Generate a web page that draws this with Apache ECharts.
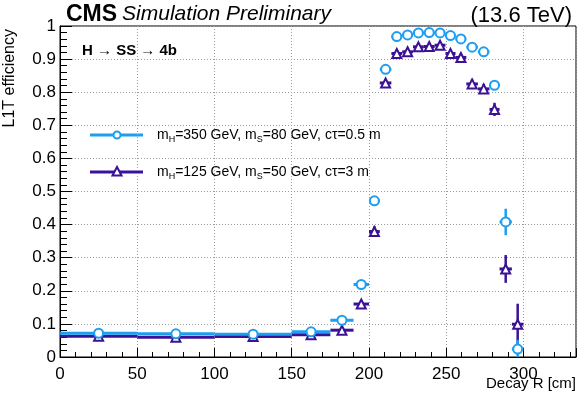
<!DOCTYPE html>
<html>
<head>
<meta charset="utf-8">
<script src="https://cdn.jsdelivr.net/npm/echarts@6/dist/echarts.min.js"></script>
<style>
  html, body { margin: 0; padding: 0; background: #fff; }
  #chart { width: 580px; height: 397px; }
</style>
</head>
<body>
<div id="chart"></div>
<script>
// bin edges in decay R [cm]
const binLo = [0, 50, 100, 150, 175, 190, 200, 207, 214.5, 221.5, 228.5, 235.5, 242.5, 249.5, 256, 263, 270.5, 278, 284.5, 292.5]
const binHi = [50, 100, 150, 175, 190, 200, 207, 214.5, 221.5, 228.5, 235.5, 242.5, 249.5, 256, 263, 270.5, 278, 284.5, 292.5, 300]

// mH=350, mS=80, ctau=0.5 m
const effA = [0.072, 0.070, 0.069, 0.076, 0.111, 0.219, 0.472, 0.869, 0.968, 0.973, 0.979, 0.980, 0.979, 0.971, 0.961, 0.936, 0.922, 0.821, 0.408, 0.024]
const errA = [0.004, 0.005, 0.005, 0.005, 0.006, 0.008, 0.010, 0.010, 0.006, 0.006, 0.005, 0.005, 0.005, 0.006, 0.006, 0.008, 0.009, 0.014, 0.040, 0.028]

// mH=125, mS=50, ctau=3 m
const effB = [0.063, 0.060, 0.062, 0.067, 0.081, 0.160, 0.379, 0.828, 0.917, 0.922, 0.937, 0.938, 0.942, 0.917, 0.905, 0.825, 0.810, 0.748, 0.266, 0.099]
const errB = [0.004, 0.006, 0.005, 0.006, 0.008, 0.012, 0.016, 0.012, 0.010, 0.010, 0.009, 0.009, 0.009, 0.010, 0.011, 0.014, 0.015, 0.020, 0.042, 0.062]

const xTicks = [0, 50, 100, 150, 200, 250, 300]
const yTicks = [0, 0.1, 0.2, 0.3, 0.4, 0.5, 0.6, 0.7, 0.8, 0.9, 1]

const BLUE = '#1c9ff0'
const PURPLE = '#3b1296'
const FONT = 'Liberation Sans, Arial, Helvetica, sans-serif'

const chart = echarts.init(document.getElementById('chart'))

function binRows (eff, err) {
  return eff.map((v, i) => [binLo[i], binHi[i], v, err[i]])
}
function centers (eff) {
  return eff.map((v, i) => [(binLo[i] + binHi[i]) / 2, v])
}

// horizontal bin bar + vertical error bar
function makeRender (color) {
  return function (params, api) {
    const lo = api.value(0)
    const hi = api.value(1)
    const y = api.value(2)
    const e = api.value(3)
    const mid = (lo + hi) / 2
    const pL = api.coord([lo, y])
    const pR = api.coord([hi, y])
    const pT = api.coord([mid, y + e])
    const pB = api.coord([mid, Math.max(0, y - e)])
    return {
      type: 'group',
      children: [
        {
          type: 'line',
          shape: { x1: pL[0], y1: pL[1], x2: pR[0], y2: pR[1] },
          style: { stroke: color, lineWidth: 3 }
        },
        {
          type: 'line',
          shape: { x1: pT[0], y1: pT[1], x2: pB[0], y2: pB[1] },
          style: { stroke: color, lineWidth: 2.5 }
        }
      ]
    }
  }
}

const richLegend = {
  n: { fontFamily: FONT, fontSize: 14, color: '#000' },
  s: { fontFamily: FONT, fontSize: 9, color: '#000', padding: [9, 0, 0, 0] }
}

const option = {
  animation: false,
  backgroundColor: '#fff',
  title: [
    {
      text: '{a|CMS} {b|Simulation Preliminary}',
      left: 61,
      top: -2,
      textStyle: {
        rich: {
          a: { fontFamily: FONT, fontSize: 23, fontWeight: 'bold', color: '#000' },
          b: { fontFamily: FONT, fontSize: 21, fontStyle: 'italic', fontWeight: 'normal', color: '#000' }
        }
      }
    },
    {
      text: '(13.6 TeV)',
      right: 3,
      top: 0,
      textStyle: { fontFamily: FONT, fontSize: 22, fontWeight: 'normal', color: '#000' }
    },
    {
      text: 'H → SS → 4b',
      left: 77,
      top: 38,
      textStyle: { fontFamily: FONT, fontSize: 15, fontWeight: 'bold', color: '#000' }
    }
  ],
  grid: {
    left: 60,
    right: 4,
    top: 26,
    bottom: 40,
    show: true,
    borderColor: '#000',
    borderWidth: 1
  },
  xAxis: {
    type: 'value',
    min: 0,
    max: 334,
    interval: 50,
    axisLine: { lineStyle: { color: '#000', width: 1 } },
    axisTick: { inside: true, length: 9, lineStyle: { color: '#000' } },
    minorTick: { show: true, splitNumber: 5, length: 5, lineStyle: { color: '#000' } },
    axisLabel: {
      fontFamily: FONT, fontSize: 17, color: '#000', margin: 9,
      formatter: v => (xTicks.indexOf(v) >= 0 ? String(v) : '')
    },
    splitLine: { show: true, lineStyle: { color: '#999', type: [1, 2], width: 1 } }
  },
  yAxis: {
    type: 'value',
    min: 0,
    max: 1,
    interval: 0.1,
    axisLine: { show: true, lineStyle: { color: '#000', width: 1 } },
    axisTick: { show: true, inside: true, length: 12, lineStyle: { color: '#000' } },
    minorTick: { show: true, splitNumber: 5, length: 7, lineStyle: { color: '#000' } },
    axisLabel: {
      fontFamily: FONT, fontSize: 17, color: '#000', margin: 4,
      formatter: v => {
        const t = yTicks.find(k => Math.abs(k - v) < 1e-6)
        return t === undefined ? '' : String(Math.round(t * 10) / 10)
      }
    },
    splitLine: { show: true, lineStyle: { color: '#999', type: [1, 2], width: 1 } }
  },
  graphic: [
    {
      type: 'text',
      x: 10,
      y: 29,
      rotation: Math.PI / 2,
      style: {
        text: 'L1T efficiency',
        fontFamily: FONT, fontSize: 16, fill: '#000',
        align: 'right', verticalAlign: 'middle'
      }
    },
    {
      type: 'text',
      x: 576,
      y: 384,
      style: {
        text: 'Decay R [cm]',
        fontFamily: FONT, fontSize: 15, fill: '#000',
        align: 'right', verticalAlign: 'middle'
      }
    },
    {
      type: 'group',
      z: 10,
      children: [
        { type: 'rect', shape: { x: 78, y: 113, width: 310, height: 77 }, style: { fill: '#fff' } },
        { type: 'line', shape: { x1: 90, y1: 135, x2: 143, y2: 135 }, style: { stroke: BLUE, lineWidth: 3 } },
        { type: 'circle', shape: { cx: 117, cy: 135, r: 3.5 }, style: { fill: '#fff', stroke: BLUE, lineWidth: 2 } },
        {
          type: 'text', x: 157, y: 135,
          style: {
            text: '{n|m}{s|H}{n|=350 GeV, m}{s|S}{n|=80 GeV, cτ=0.5 m}',
            rich: richLegend, verticalAlign: 'middle'
          }
        },
        { type: 'line', shape: { x1: 90, y1: 172, x2: 143, y2: 172 }, style: { stroke: PURPLE, lineWidth: 3 } },
        { type: 'polygon', shape: { points: [[117, 167], [112.5, 175.5], [121.5, 175.5]] }, style: { fill: '#fff', stroke: PURPLE, lineWidth: 2 } },
        {
          type: 'text', x: 157, y: 172,
          style: {
            text: '{n|m}{s|H}{n|=125 GeV, m}{s|S}{n|=50 GeV, cτ=3 m}',
            rich: richLegend, verticalAlign: 'middle'
          }
        }
      ]
    }
  ],
  series: [
    {
      name: 'mH=125 GeV, mS=50 GeV, ctau=3 m bins',
      type: 'custom',
      renderItem: makeRender(PURPLE),
      encode: { x: [0, 1], y: 2 },
      data: binRows(effB, errB),
      z: 2
    },
    {
      name: 'mH=350 GeV, mS=80 GeV, ctau=0.5 m bins',
      type: 'custom',
      renderItem: makeRender(BLUE),
      encode: { x: [0, 1], y: 2 },
      data: binRows(effA, errA),
      z: 3
    },
    {
      name: 'mH=125 GeV, mS=50 GeV, ctau=3 m',
      type: 'scatter',
      symbol: 'triangle',
      symbolSize: 9,
      itemStyle: { color: '#fff', borderColor: PURPLE, borderWidth: 2, opacity: 1 },
      data: centers(effB),
      z: 4
    },
    {
      name: 'mH=350 GeV, mS=80 GeV, ctau=0.5 m',
      type: 'scatter',
      symbol: 'circle',
      symbolSize: 9,
      itemStyle: { color: '#fff', borderColor: BLUE, borderWidth: 2, opacity: 1 },
      data: centers(effA),
      z: 5
    }
  ]
}

chart.setOption(option)
</script>
</body>
</html>
